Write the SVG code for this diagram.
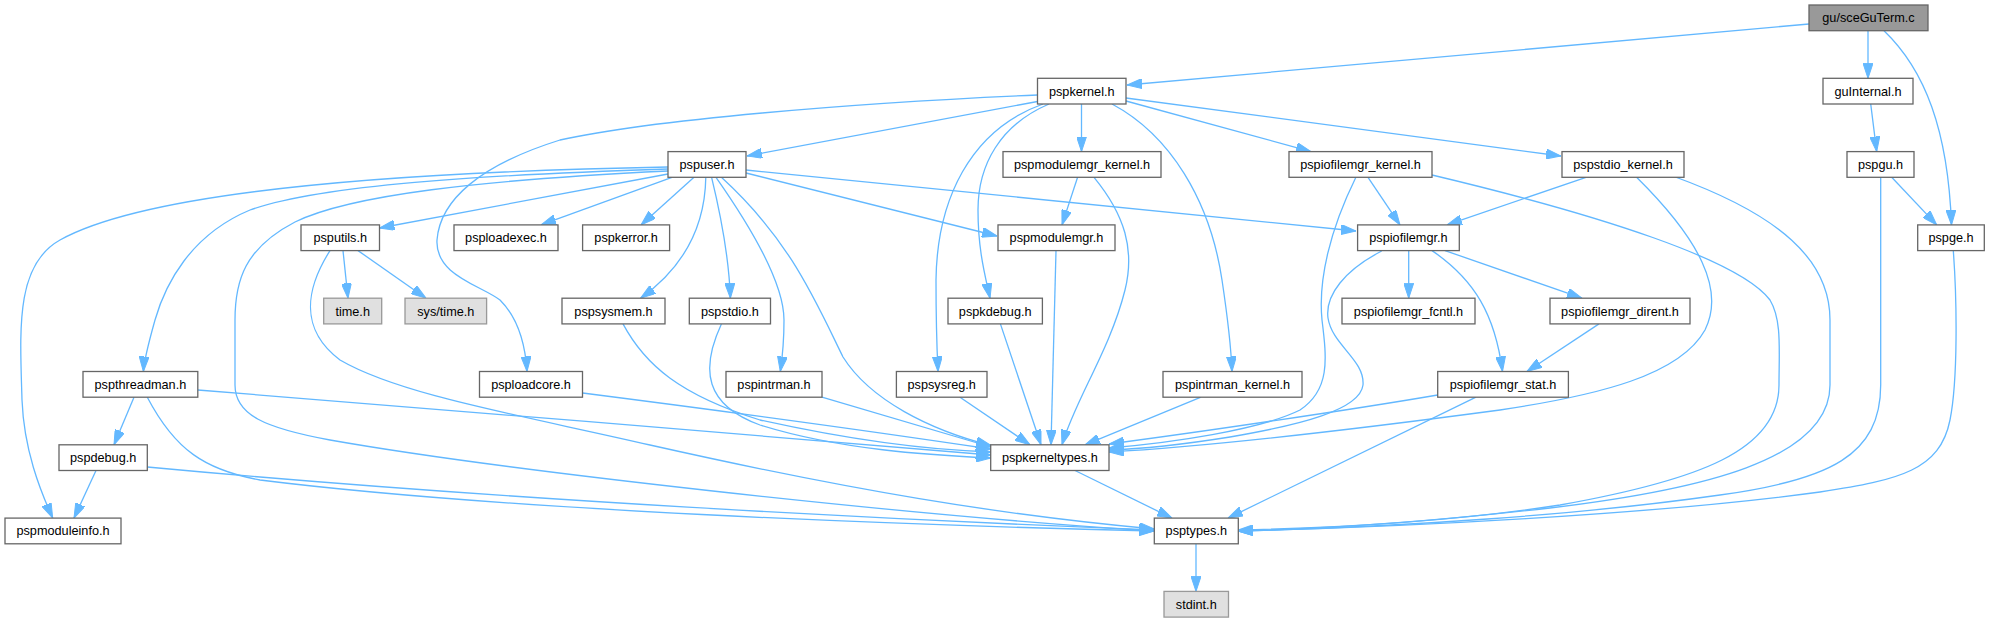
<svg xmlns="http://www.w3.org/2000/svg" width="1990" height="623" viewBox="0 0 1990 623">
<style>
.e{fill:none;stroke:#63b8ff;stroke-width:1.3;marker-end:url(#a)}
.n rect{fill:#ffffff;stroke:#666666;stroke-width:1.3}
.root rect{fill:#999999;stroke:#666666;stroke-width:1.3}
.ext rect{fill:#e0e0e0;stroke:#999999;stroke-width:1.3}
text{font-family:"Liberation Sans",Arial,Helvetica,sans-serif;font-size:12.7px;text-anchor:middle;fill:#000000}
</style>
<defs>
<marker id="a" viewBox="0 0 15 10" markerWidth="15" markerHeight="10" refX="15" refY="5" orient="auto" markerUnits="userSpaceOnUse">
<path d="M0,0 L15,5 L0,10 z" fill="#63b8ff" stroke="#63b8ff" stroke-width="1"/>
</marker>
</defs>
<rect width="1990" height="623" fill="#ffffff"/>
<g id="connectors">
<path class="e" d="M1809,24 L1127,85"/>
<path class="e" d="M1868,30.7 L1868,78.3"/>
<path class="e" d="M1884,30.7 C1925,70 1948,130 1951.5,224.9"/>
<path class="e" d="M1870.7,104 L1876.7,151.6"/>
<path class="e" d="M1891.7,177.3 L1936.7,224.9"/>
<path class="e" d="M1880.7,177.3 L1880.7,385 C1880.7,455 1830,480 1720,495 C1580,515 1400,527 1238.3,531"/>
<path class="e" d="M1953.3,250.6 C1957,300 1958,380 1950,420 C1940,470 1900,480 1820,492 C1650,515 1400,527 1238.3,531"/>
<path class="e" d="M1037.5,101.5 L747,156"/>
<path class="e" d="M1037.5,95 C850,103 650,120 560,140 C480,165 440,200 437,240 C435,275 480,285 500,300 C515,315 525,340 527,371.5"/>
<path class="e" d="M1081.5,104 L1081.5,151.6"/>
<path class="e" d="M1126,101 L1311,151.6"/>
<path class="e" d="M1126,98 L1561,156"/>
<path class="e" d="M1049,104 C1000,125 978,165 978,210 C978,250 985,275 990,298.2"/>
<path class="e" d="M1043,104 C970,130 937,200 936,280 C936,330 937,350 938,371.5"/>
<path class="e" d="M1112,104 C1170,135 1210,200 1222,280 C1228,320 1231,345 1232,371.5"/>
<path class="e" d="M668,174 L379.5,228"/>
<path class="e" d="M672,177.3 L541,224.9"/>
<path class="e" d="M694,177.3 L641,224.9"/>
<path class="e" d="M705.8,177.3 C705,230 680,270 640.6,298.2"/>
<path class="e" d="M711.6,177.3 C722,220 729,260 730.4,298.2"/>
<path class="e" d="M716,177.3 C760,240 784,290 784,320 C784,345 782,360 780.3,371.5"/>
<path class="e" d="M721.4,177.3 C790,240 815,300 843,357 C870,400 930,430 991,445.5"/>
<path class="e" d="M746,173 L997,236"/>
<path class="e" d="M746,170 L1356,231"/>
<path class="e" d="M668,169 C480,175 320,185 250,210 C190,235 165,285 155,320 C148,345 144,360 143.4,371.5"/>
<path class="e" d="M668,167 C400,172 150,190 60,240 C15,265 20,330 22,400 C24,450 40,490 52.7,518.1"/>
<path class="e" d="M668,171 C480,180 350,195 295,222 C245,248 235,280 235,320 L235,385 C235,415 265,428 330,440 C500,470 900,515 1154.3,531"/>
<path class="e" d="M343,250.6 L348,298.2"/>
<path class="e" d="M358,250.6 L426,298.2"/>
<path class="e" d="M330,250.6 C305,290 300,330 340,360 C400,395 520,415 650,445 C850,490 1000,515 1154.3,529"/>
<path class="e" d="M134,397.2 L114,444.8"/>
<path class="e" d="M197.8,390 C400,405 800,440 990.7,455"/>
<path class="e" d="M147.3,397.2 C175,450 205,470 260,480 C500,510 900,525 1154.3,531"/>
<path class="e" d="M96,470.5 L74,518.1"/>
<path class="e" d="M147.3,467 C500,500 900,520 1154.3,530"/>
<path class="e" d="M582.6,393 C700,408 850,428 990.7,449"/>
<path class="e" d="M623,323.9 C645,365 680,395 760,420 C850,440 930,450 990.7,452"/>
<path class="e" d="M721.4,323.9 C700,370 705,405 760,425 C840,450 930,455 990.7,458"/>
<path class="e" d="M822,397.2 L991,447"/>
<path class="e" d="M960,397.2 L1030,444.8"/>
<path class="e" d="M1000.4,323.9 L1041,444.8"/>
<path class="e" d="M1056,250.6 L1051,444.8"/>
<path class="e" d="M1094,177.3 C1125,215 1135,250 1125,290 C1110,350 1075,400 1062,444.8"/>
<path class="e" d="M1201,397.2 L1085,444.8"/>
<path class="e" d="M1077.6,177.3 L1062,224.9"/>
<path class="e" d="M1368,177.3 L1400,224.9"/>
<path class="e" d="M1355.9,177.3 C1330,230 1318,280 1322,320 C1327,360 1330,390 1300,410 C1260,430 1170,443 1109,448"/>
<path class="e" d="M1432,175 C1600,215 1740,260 1770,300 C1782,320 1779,350 1779,385 C1779,450 1700,480 1560,505 C1450,522 1330,528 1238.3,530"/>
<path class="e" d="M1586,177.3 L1447,224.9"/>
<path class="e" d="M1636.6,177.3 C1700,240 1725,290 1705,330 C1680,375 1600,395 1500,410 C1350,430 1200,447 1109,452"/>
<path class="e" d="M1674,176.5 C1780,215 1830,260 1830,320 L1830,385 C1830,460 1700,490 1550,508 C1420,523 1320,529 1238.3,531"/>
<path class="e" d="M1408.7,250.6 L1408.7,298.2"/>
<path class="e" d="M1445,250.6 L1582,298.2"/>
<path class="e" d="M1432,250.6 C1475,280 1495,315 1502.5,371.5"/>
<path class="e" d="M1381.7,251 C1345,270 1325,295 1328,318 C1332,345 1365,360 1363,385 C1360,410 1300,425 1230,437 C1180,445 1140,449 1109,450"/>
<path class="e" d="M1599,323.9 L1527,371.5"/>
<path class="e" d="M1437.7,395 C1350,410 1200,432 1109,444"/>
<path class="e" d="M1476,397.2 L1228,518.1"/>
<path class="e" d="M1075,470.5 L1172,518.1"/>
<path class="e" d="M1196,543.8 L1196,591.4"/>
</g>
<g id="n_sceGuTerm" class="root"><rect x="1809" y="5" width="119" height="25.7"/><text x="1868.5" y="22.3">gu/sceGuTerm.c</text></g>
<g id="n_pspkernel" class="n"><rect x="1037.5" y="78.3" width="88.5" height="25.7"/><text x="1081.75" y="95.6">pspkernel.h</text></g>
<g id="n_guInternal" class="n"><rect x="1823" y="78.3" width="90" height="25.7"/><text x="1868" y="95.6">guInternal.h</text></g>
<g id="n_pspuser" class="n"><rect x="668" y="151.6" width="78" height="25.7"/><text x="707" y="168.9">pspuser.h</text></g>
<g id="n_pspmodulemgr_kernel" class="n"><rect x="1003" y="151.6" width="158" height="25.7"/><text x="1082" y="168.9">pspmodulemgr_kernel.h</text></g>
<g id="n_pspiofilemgr_kernel" class="n"><rect x="1289" y="151.6" width="143" height="25.7"/><text x="1360.5" y="168.9">pspiofilemgr_kernel.h</text></g>
<g id="n_pspstdio_kernel" class="n"><rect x="1562" y="151.6" width="122" height="25.7"/><text x="1623" y="168.9">pspstdio_kernel.h</text></g>
<g id="n_pspgu" class="n"><rect x="1847" y="151.6" width="67" height="25.7"/><text x="1880.5" y="168.9">pspgu.h</text></g>
<g id="n_psputils" class="n"><rect x="301" y="224.9" width="78.5" height="25.7"/><text x="340.25" y="242.2">psputils.h</text></g>
<g id="n_psploadexec" class="n"><rect x="454" y="224.9" width="104" height="25.7"/><text x="506" y="242.2">psploadexec.h</text></g>
<g id="n_pspkerror" class="n"><rect x="582.6" y="224.9" width="87" height="25.7"/><text x="626.1" y="242.2">pspkerror.h</text></g>
<g id="n_pspmodulemgr" class="n"><rect x="998" y="224.9" width="117" height="25.7"/><text x="1056.5" y="242.2">pspmodulemgr.h</text></g>
<g id="n_pspiofilemgr" class="n"><rect x="1357.6" y="224.9" width="101.7" height="25.7"/><text x="1408.45" y="242.2">pspiofilemgr.h</text></g>
<g id="n_pspge" class="n"><rect x="1917.7" y="224.9" width="66.6" height="25.7"/><text x="1951" y="242.2">pspge.h</text></g>
<g id="n_time" class="ext"><rect x="323.7" y="298.2" width="58" height="25.7"/><text x="352.7" y="315.5">time.h</text></g>
<g id="n_systime" class="ext"><rect x="405" y="298.2" width="81.6" height="25.7"/><text x="445.8" y="315.5">sys/time.h</text></g>
<g id="n_pspsysmem" class="n"><rect x="562" y="298.2" width="103" height="25.7"/><text x="613.5" y="315.5">pspsysmem.h</text></g>
<g id="n_pspstdio" class="n"><rect x="689.3" y="298.2" width="81.2" height="25.7"/><text x="729.9" y="315.5">pspstdio.h</text></g>
<g id="n_pspkdebug" class="n"><rect x="948" y="298.2" width="94.4" height="25.7"/><text x="995.2" y="315.5">pspkdebug.h</text></g>
<g id="n_pspiofilemgr_fcntl" class="n"><rect x="1342" y="298.2" width="133" height="25.7"/><text x="1408.5" y="315.5">pspiofilemgr_fcntl.h</text></g>
<g id="n_pspiofilemgr_dirent" class="n"><rect x="1550" y="298.2" width="140" height="25.7"/><text x="1620" y="315.5">pspiofilemgr_dirent.h</text></g>
<g id="n_pspthreadman" class="n"><rect x="83" y="371.5" width="114.8" height="25.7"/><text x="140.4" y="388.8">pspthreadman.h</text></g>
<g id="n_psploadcore" class="n"><rect x="479.5" y="371.5" width="103" height="25.7"/><text x="531" y="388.8">psploadcore.h</text></g>
<g id="n_pspintrman" class="n"><rect x="726" y="371.5" width="96" height="25.7"/><text x="774" y="388.8">pspintrman.h</text></g>
<g id="n_pspsysreg" class="n"><rect x="896.4" y="371.5" width="90.6" height="25.7"/><text x="941.7" y="388.8">pspsysreg.h</text></g>
<g id="n_pspintrman_kernel" class="n"><rect x="1163" y="371.5" width="139" height="25.7"/><text x="1232.5" y="388.8">pspintrman_kernel.h</text></g>
<g id="n_pspiofilemgr_stat" class="n"><rect x="1437.7" y="371.5" width="130.7" height="25.7"/><text x="1503" y="388.8">pspiofilemgr_stat.h</text></g>
<g id="n_pspdebug" class="n"><rect x="59" y="444.8" width="88.3" height="25.7"/><text x="103.15" y="462.1">pspdebug.h</text></g>
<g id="n_pspkerneltypes" class="n"><rect x="990.7" y="444.8" width="118.3" height="25.7"/><text x="1049.85" y="462.1">pspkerneltypes.h</text></g>
<g id="n_pspmoduleinfo" class="n"><rect x="5" y="518.1" width="116" height="25.7"/><text x="63" y="535.4">pspmoduleinfo.h</text></g>
<g id="n_psptypes" class="n"><rect x="1154.3" y="518.1" width="84" height="25.7"/><text x="1196.3" y="535.4">psptypes.h</text></g>
<g id="n_stdint" class="ext"><rect x="1164" y="591.4" width="64.5" height="25.7"/><text x="1196.25" y="608.7">stdint.h</text></g>
</svg>
